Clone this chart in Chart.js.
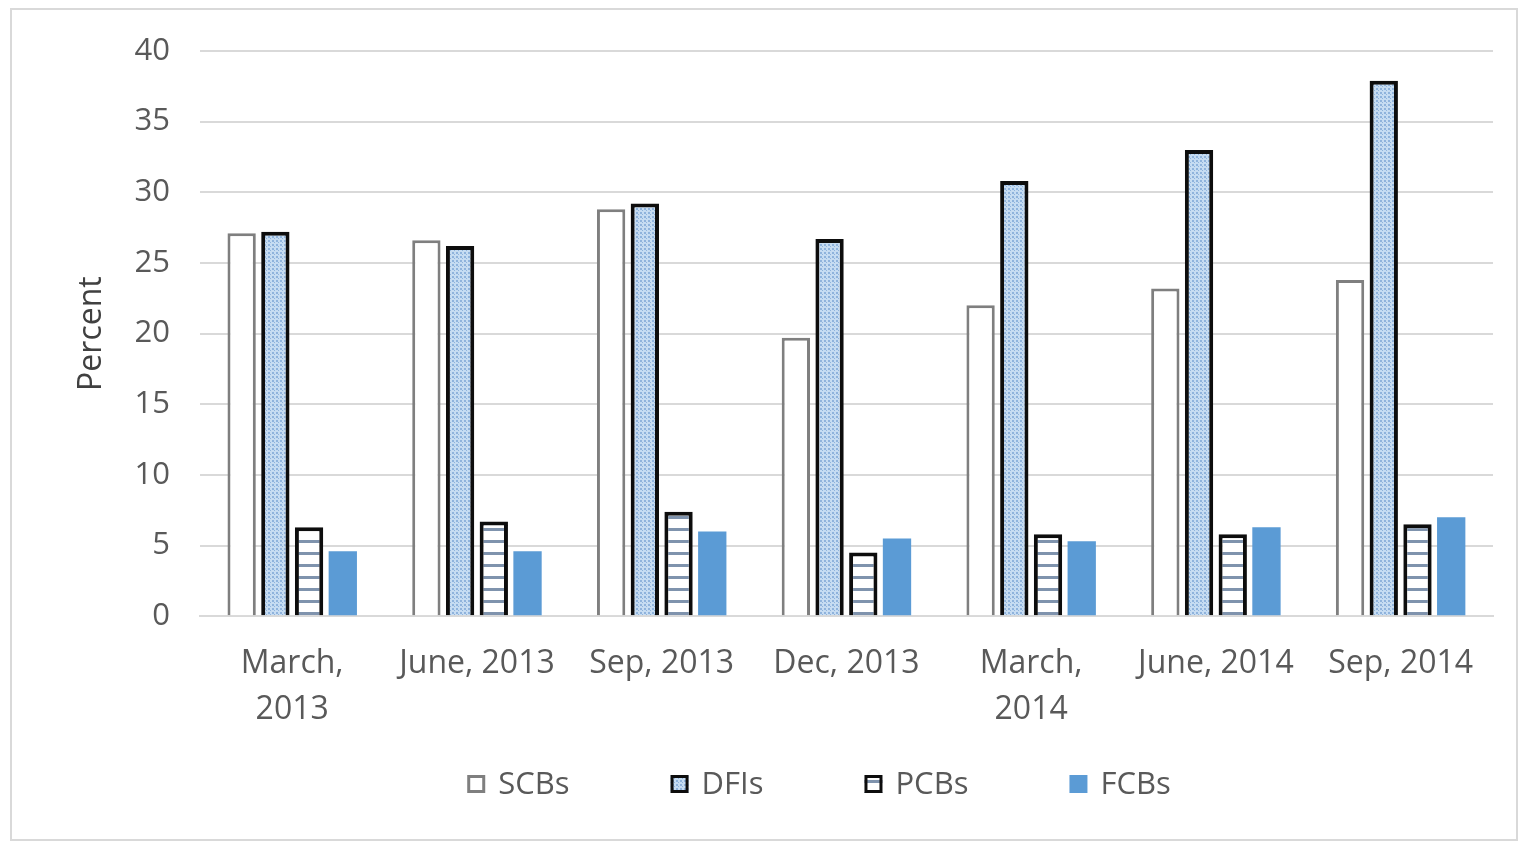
<!DOCTYPE html>
<html>
<head>
<meta charset="utf-8">
<script src="https://cdn.jsdelivr.net/npm/chart.js@4"></script>
<style>
  html, body { margin: 0; padding: 0; background: #fff; }
  #frame {
    position: absolute; left: 10px; top: 8px;
    width: 1508px; height: 833px;
    border: 2px solid #d9d9d9; box-sizing: border-box;
  }
  #wrap { position: absolute; left: 0; top: 0; width: 1528px; height: 845px; }
</style>
</head>
<body>
<div id="frame"></div>
<div id="wrap"><canvas id="chart"></canvas></div>
<script>
const categories = [['March,', '2013'], 'June, 2013', 'Sep, 2013', 'Dec, 2013', ['March,', '2014'], 'June, 2014', 'Sep, 2014'];
const scbs = [27.1, 26.6, 28.8, 19.7, 22.0, 23.2, 23.8];
const dfis = [27.2, 26.2, 29.2, 26.7, 30.8, 33.0, 37.9];
const pcbs = [6.3, 6.7, 7.4, 4.5, 5.8, 5.8, 6.5];
const fcbs = [4.6, 4.6, 6.0, 5.5, 5.3, 6.3, 7.0];
const yTicks = [0, 5, 10, 15, 20, 25, 30, 35, 40];

// small tiles used as bar fills
function dotPattern() {
  const c = document.createElement('canvas');
  c.width = 4; c.height = 4;
  const g = c.getContext('2d');
  g.fillStyle = '#c6dcf2';
  g.fillRect(0, 0, 4, 4);
  g.fillStyle = '#8fb3dc';
  g.fillRect(0, 0, 2, 2);
  g.fillRect(2, 2, 1, 1);
  return g.createPattern(c, 'repeat');
}

function stripePattern() {
  const c = document.createElement('canvas');
  c.width = 8; c.height = 12;
  const g = c.getContext('2d');
  g.fillStyle = '#ffffff';
  g.fillRect(0, 0, 8, 12);
  g.fillStyle = '#7f93ad';
  g.fillRect(0, 0, 8, 3);
  return g.createPattern(c, 'repeat');
}

const font = '"Open Sans", Lato, sans-serif';
Chart.defaults.font.family = font;
Chart.defaults.color = '#595959';

// legend with wide gaps between entries but sitting close under the axis labels
const spreadLegend = {
  id: 'spreadLegend',
  afterDraw(chart) {
    const ctx = chart.ctx;
    const box = 18, gap = 101, textGap = 13, y = 784, centerX = 819;
    ctx.save();
    ctx.font = '31px ' + font;
    ctx.textBaseline = 'middle';
    const items = chart.data.datasets.map(ds => ({
      ds, w: box + textGap + ctx.measureText(ds.label).width
    }));
    const total = items.reduce((s, it) => s + it.w, 0) + gap * (items.length - 1);
    let x = centerX - total / 2;
    items.forEach(({ ds, w }) => {
      ctx.fillStyle = ds.backgroundColor;
      ctx.fillRect(x, y - box / 2, box, box);
      if (ds.borderWidth) {
        ctx.lineWidth = 3;
        ctx.strokeStyle = ds.borderColor;
        ctx.strokeRect(x + 1.5, y - box / 2 + 1.5, box - 3, box - 3);
      }
      ctx.fillStyle = '#595959';
      ctx.fillText(ds.label, x + box + textGap, y + 1);
      x += w + gap;
    });
    ctx.restore();
  }
};

new Chart(document.getElementById('chart'), {
  type: 'bar',
  data: {
    labels: categories,
    datasets: [
      { label: 'SCBs', data: scbs, backgroundColor: '#ffffff', borderColor: '#7f7f7f', borderWidth: 3 },
      { label: 'DFIs', data: dfis, backgroundColor: dotPattern(), borderColor: '#0d0d0d', borderWidth: 4 },
      { label: 'PCBs', data: pcbs, backgroundColor: stripePattern(), borderColor: '#0d0d0d', borderWidth: 4 },
      { label: 'FCBs', data: fcbs, backgroundColor: '#5b9bd5', borderColor: '#5b9bd5', borderWidth: 0 }
    ]
  },
  plugins: [spreadLegend],
  options: {
    responsive: true,
    maintainAspectRatio: false,
    animation: false,
    datasets: { bar: { categoryPercentage: 0.73, barPercentage: 0.84 } },
    layout: { padding: { left: 73, right: 35, top: 51, bottom: 96 } },
    plugins: {
      legend: { display: false },
      tooltip: { enabled: false }
    },
    scales: {
      x: {
        grid: { display: false },
        border: { color: '#d9d9d9', width: 2 },
        ticks: { font: { size: 32, lineHeight: 1.45 }, color: '#595959', maxRotation: 0, padding: 16 }
      },
      y: {
        min: 0, max: 40,
        afterBuildTicks: axis => { axis.ticks = yTicks.map(v => ({ value: v })); },
        grid: { color: '#d9d9d9', lineWidth: 2, drawTicks: false },
        border: { display: false },
        ticks: { font: { size: 31 }, color: '#595959', padding: 30 },
        title: {
          display: true, text: 'Percent', font: { size: 32 }, color: '#404040',
          padding: { top: 0, bottom: -7 }
        }
      }
    }
  }
});
</script>
</body>
</html>
